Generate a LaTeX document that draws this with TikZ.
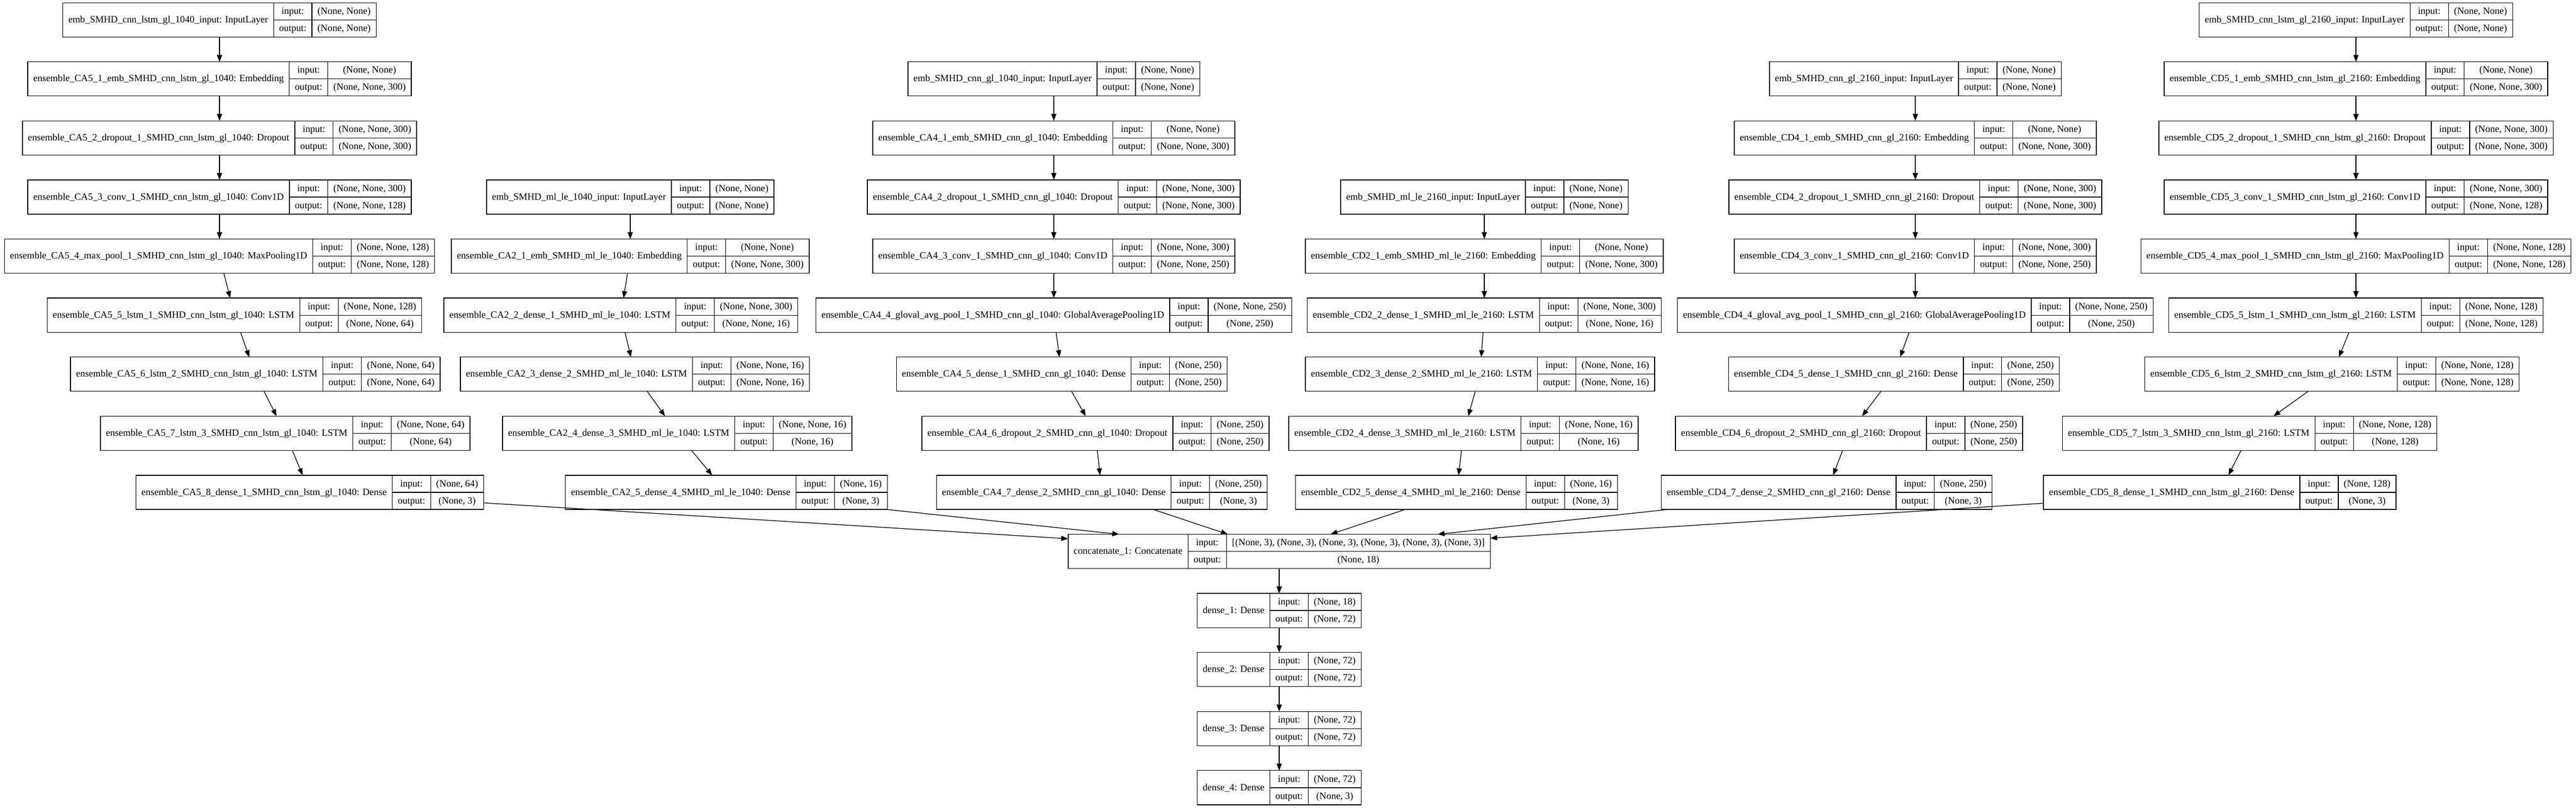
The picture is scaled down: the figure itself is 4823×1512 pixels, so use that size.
\documentclass[tikz,border=0pt]{standalone}
\usepackage{fontspec}
\setmainfont{Liberation Serif}
\usetikzlibrary{arrows.meta}
\AtBeginDocument{\let\gvselectfont\selectfont}
\newcommand\gvfont{\fontsize{14pt}{16.8pt}\gvselectfont}
\newlength\nameW \newlength\ioW \newlength\valW \newlength\valWb \newlength\totW
\tikzset{
  box/.style={draw, line width=1pt, inner sep=0pt, outer sep=0pt, minimum height=49.6pt},
  sep/.style={line width=1pt},
  txt/.style={inner sep=0pt, font=\gvfont, text height=11pt, text depth=3pt, anchor=center},
  edge/.style={line width=1pt, -{Triangle[length=10pt,width=7.5pt]}}
}
% #1 name, #2 anchor, #3 x (px), #4 row, #5 label, #6 input, #7 output
\newcommand\gvlayer[7]{%
  \settowidth\nameW{\gvfont #5}\addtolength\nameW{16pt}%
  \settowidth\ioW{\gvfont output:}\addtolength\ioW{16pt}%
  \settowidth\valW{\gvfont #6}\settowidth\valWb{\gvfont #7}%
  \ifdim\valWb>\valW \valW=\valWb\fi \addtolength\valW{16pt}%
  \totW=\nameW \addtolength\totW{\ioW}\addtolength\totW{\valW}%
  \node[box, minimum width=\totW, anchor=#2] (#1) at (#3,{37.2+110.59*#4}) {};
  \draw[sep] ([xshift=\nameW]#1.north west) -- ([xshift=\nameW]#1.south west);
  \draw[sep] ([xshift=\nameW+\ioW]#1.north west) -- ([xshift=\nameW+\ioW]#1.south west);
  \draw[sep] ([xshift=\nameW]#1.west) -- (#1.east);
  \node[txt] at ([xshift=0.5\nameW]#1.west) {#5};
  \node[txt] at ([xshift=\nameW+0.5\ioW, yshift=12.4pt]#1.west) {input:};
  \node[txt] at ([xshift=\nameW+0.5\ioW, yshift=-12.4pt]#1.west) {output:};
  \node[txt] at ([xshift=\nameW+\ioW+0.5\valW, yshift=12.4pt]#1.west) {#6};
  \node[txt] at ([xshift=\nameW+\ioW+0.5\valW, yshift=-12.4pt]#1.west) {#7};
}
\begin{document}
\begin{tikzpicture}[x=0.77405pt, y=-0.77405pt]
\fill[white] (0,0) rectangle (4823,1512);
\useasboundingbox (0,0) rectangle (4823,1512);
% CA5 column
\gvlayer{a0}{center}{411}{0}{emb\_SMHD\_cnn\_lstm\_gl\_1040\_input: InputLayer}{(None, None)}{(None, None)}
\gvlayer{a1}{center}{411}{1}{ensemble\_CA5\_1\_emb\_SMHD\_cnn\_lstm\_gl\_1040: Embedding}{(None, None)}{(None, None, 300)}
\gvlayer{a2}{center}{411}{2}{ensemble\_CA5\_2\_dropout\_1\_SMHD\_cnn\_lstm\_gl\_1040: Dropout}{(None, None, 300)}{(None, None, 300)}
\gvlayer{a3}{center}{411}{3}{ensemble\_CA5\_3\_conv\_1\_SMHD\_cnn\_lstm\_gl\_1040: Conv1D}{(None, None, 300)}{(None, None, 128)}
\gvlayer{a4}{center}{411}{4}{ensemble\_CA5\_4\_max\_pool\_1\_SMHD\_cnn\_lstm\_gl\_1040: MaxPooling1D}{(None, None, 128)}{(None, None, 128)}
\gvlayer{a5}{center}{439}{5}{ensemble\_CA5\_5\_lstm\_1\_SMHD\_cnn\_lstm\_gl\_1040: LSTM}{(None, None, 128)}{(None, None, 64)}
\gvlayer{a6}{center}{478}{6}{ensemble\_CA5\_6\_lstm\_2\_SMHD\_cnn\_lstm\_gl\_1040: LSTM}{(None, None, 64)}{(None, None, 64)}
\gvlayer{a7}{center}{534}{7}{ensemble\_CA5\_7\_lstm\_3\_SMHD\_cnn\_lstm\_gl\_1040: LSTM}{(None, None, 64)}{(None, 64)}
\gvlayer{a8}{center}{580}{8}{ensemble\_CA5\_8\_dense\_1\_SMHD\_cnn\_lstm\_gl\_1040: Dense}{(None, 64)}{(None, 3)}
% CA2 column
\gvlayer{b3}{center}{1180}{3}{emb\_SMHD\_ml\_le\_1040\_input: InputLayer}{(None, None)}{(None, None)}
\gvlayer{b4}{center}{1180}{4}{ensemble\_CA2\_1\_emb\_SMHD\_ml\_le\_1040: Embedding}{(None, None)}{(None, None, 300)}
\gvlayer{b5}{west}{831}{5}{ensemble\_CA2\_2\_dense\_1\_SMHD\_ml\_le\_1040: LSTM}{(None, None, 300)}{(None, None, 16)}
\gvlayer{b6}{west}{862}{6}{ensemble\_CA2\_3\_dense\_2\_SMHD\_ml\_le\_1040: LSTM}{(None, None, 16)}{(None, None, 16)}
\gvlayer{b7}{center}{1268}{7}{ensemble\_CA2\_4\_dense\_3\_SMHD\_ml\_le\_1040: LSTM}{(None, None, 16)}{(None, 16)}
\gvlayer{b8}{center}{1360}{8}{ensemble\_CA2\_5\_dense\_4\_SMHD\_ml\_le\_1040: Dense}{(None, 16)}{(None, 3)}
% CA4 column
\gvlayer{c1}{center}{1973}{1}{emb\_SMHD\_cnn\_gl\_1040\_input: InputLayer}{(None, None)}{(None, None)}
\gvlayer{c2}{center}{1973}{2}{ensemble\_CA4\_1\_emb\_SMHD\_cnn\_gl\_1040: Embedding}{(None, None)}{(None, None, 300)}
\gvlayer{c3}{center}{1973}{3}{ensemble\_CA4\_2\_dropout\_1\_SMHD\_cnn\_gl\_1040: Dropout}{(None, None, 300)}{(None, None, 300)}
\gvlayer{c4}{center}{1973}{4}{ensemble\_CA4\_3\_conv\_1\_SMHD\_cnn\_gl\_1040: Conv1D}{(None, None, 300)}{(None, None, 250)}
\gvlayer{c5}{center}{1973}{5}{ensemble\_CA4\_4\_gloval\_avg\_pool\_1\_SMHD\_cnn\_gl\_1040: GlobalAveragePooling1D}{(None, None, 250)}{(None, 250)}
\gvlayer{c6}{center}{1988}{6}{ensemble\_CA4\_5\_dense\_1\_SMHD\_cnn\_gl\_1040: Dense}{(None, 250)}{(None, 250)}
\gvlayer{c7}{center}{2051}{7}{ensemble\_CA4\_6\_dropout\_2\_SMHD\_cnn\_gl\_1040: Dropout}{(None, 250)}{(None, 250)}
\gvlayer{c8}{center}{2063}{8}{ensemble\_CA4\_7\_dense\_2\_SMHD\_cnn\_gl\_1040: Dense}{(None, 250)}{(None, 3)}
% CD2 column
\gvlayer{d3}{center}{2779}{3}{emb\_SMHD\_ml\_le\_2160\_input: InputLayer}{(None, None)}{(None, None)}
\gvlayer{d4}{center}{2779}{4}{ensemble\_CD2\_1\_emb\_SMHD\_ml\_le\_2160: Embedding}{(None, None)}{(None, None, 300)}
\gvlayer{d5}{center}{2779}{5}{ensemble\_CD2\_2\_dense\_1\_SMHD\_ml\_le\_2160: LSTM}{(None, None, 300)}{(None, None, 16)}
\gvlayer{d6}{center}{2771}{6}{ensemble\_CD2\_3\_dense\_2\_SMHD\_ml\_le\_2160: LSTM}{(None, None, 16)}{(None, None, 16)}
\gvlayer{d7}{center}{2740}{7}{ensemble\_CD2\_4\_dense\_3\_SMHD\_ml\_le\_2160: LSTM}{(None, None, 16)}{(None, 16)}
\gvlayer{d8}{center}{2727}{8}{ensemble\_CD2\_5\_dense\_4\_SMHD\_ml\_le\_2160: Dense}{(None, 16)}{(None, 3)}
% CD4 column
\gvlayer{e1}{center}{3586}{1}{emb\_SMHD\_cnn\_gl\_2160\_input: InputLayer}{(None, None)}{(None, None)}
\gvlayer{e2}{center}{3586}{2}{ensemble\_CD4\_1\_emb\_SMHD\_cnn\_gl\_2160: Embedding}{(None, None)}{(None, None, 300)}
\gvlayer{e3}{center}{3586}{3}{ensemble\_CD4\_2\_dropout\_1\_SMHD\_cnn\_gl\_2160: Dropout}{(None, None, 300)}{(None, None, 300)}
\gvlayer{e4}{center}{3586}{4}{ensemble\_CD4\_3\_conv\_1\_SMHD\_cnn\_gl\_2160: Conv1D}{(None, None, 300)}{(None, None, 250)}
\gvlayer{e5}{center}{3586}{5}{ensemble\_CD4\_4\_gloval\_avg\_pool\_1\_SMHD\_cnn\_gl\_2160: GlobalAveragePooling1D}{(None, None, 250)}{(None, 250)}
\gvlayer{e6}{center}{3546}{6}{ensemble\_CD4\_5\_dense\_1\_SMHD\_cnn\_gl\_2160: Dense}{(None, 250)}{(None, 250)}
\gvlayer{e7}{center}{3462}{7}{ensemble\_CD4\_6\_dropout\_2\_SMHD\_cnn\_gl\_2160: Dropout}{(None, 250)}{(None, 250)}
\gvlayer{e8}{center}{3420}{8}{ensemble\_CD4\_7\_dense\_2\_SMHD\_cnn\_gl\_2160: Dense}{(None, 250)}{(None, 3)}
% CD5 column
\gvlayer{f0}{center}{4411}{0}{emb\_SMHD\_cnn\_lstm\_gl\_2160\_input: InputLayer}{(None, None)}{(None, None)}
\gvlayer{f1}{center}{4411}{1}{ensemble\_CD5\_1\_emb\_SMHD\_cnn\_lstm\_gl\_2160: Embedding}{(None, None)}{(None, None, 300)}
\gvlayer{f2}{center}{4411}{2}{ensemble\_CD5\_2\_dropout\_1\_SMHD\_cnn\_lstm\_gl\_2160: Dropout}{(None, None, 300)}{(None, None, 300)}
\gvlayer{f3}{center}{4411}{3}{ensemble\_CD5\_3\_conv\_1\_SMHD\_cnn\_lstm\_gl\_2160: Conv1D}{(None, None, 300)}{(None, None, 128)}
\gvlayer{f4}{center}{4411}{4}{ensemble\_CD5\_4\_max\_pool\_1\_SMHD\_cnn\_lstm\_gl\_2160: MaxPooling1D}{(None, None, 128)}{(None, None, 128)}
\gvlayer{f5}{center}{4411}{5}{ensemble\_CD5\_5\_lstm\_1\_SMHD\_cnn\_lstm\_gl\_2160: LSTM}{(None, None, 128)}{(None, None, 128)}
\gvlayer{f6}{center}{4366}{6}{ensemble\_CD5\_6\_lstm\_2\_SMHD\_cnn\_lstm\_gl\_2160: LSTM}{(None, None, 128)}{(None, None, 128)}
\gvlayer{f7}{center}{4212}{7}{ensemble\_CD5\_7\_lstm\_3\_SMHD\_cnn\_lstm\_gl\_2160: LSTM}{(None, None, 128)}{(None, 128)}
\gvlayer{f8}{center}{4156}{8}{ensemble\_CD5\_8\_dense\_1\_SMHD\_cnn\_lstm\_gl\_2160: Dense}{(None, 128)}{(None, 3)}
% merge and head
\gvlayer{g9}{center}{2395}{9}{concatenate\_1: Concatenate}{[(None, 3), (None, 3), (None, 3), (None, 3), (None, 3), (None, 3)]}{(None, 18)}
\gvlayer{h10}{center}{2395}{10}{dense\_1: Dense}{(None, 18)}{(None, 72)}
\gvlayer{h11}{center}{2395}{11}{dense\_2: Dense}{(None, 72)}{(None, 72)}
\gvlayer{h12}{center}{2395}{12}{dense\_3: Dense}{(None, 72)}{(None, 72)}
\gvlayer{h13}{center}{2395}{13}{dense\_4: Dense}{(None, 72)}{(None, 3)}
% edges
\foreach \p/\s/\e in {a/0/8, b/3/8, c/1/8, d/3/8, e/1/8, f/0/8}{
  \pgfmathtruncatemacro\last{\e-1}
  \foreach \i in {\s,...,\last}{
    \pgfmathtruncatemacro\j{\i+1}
    \draw[edge] (\p\i) -- (\p\j);
  }
  \draw[edge] (\p\e) -- (g9);
}
\draw[edge] (g9) -- (h10);
\draw[edge] (h10) -- (h11);
\draw[edge] (h11) -- (h12);
\draw[edge] (h12) -- (h13);
\end{tikzpicture}
\end{document}
